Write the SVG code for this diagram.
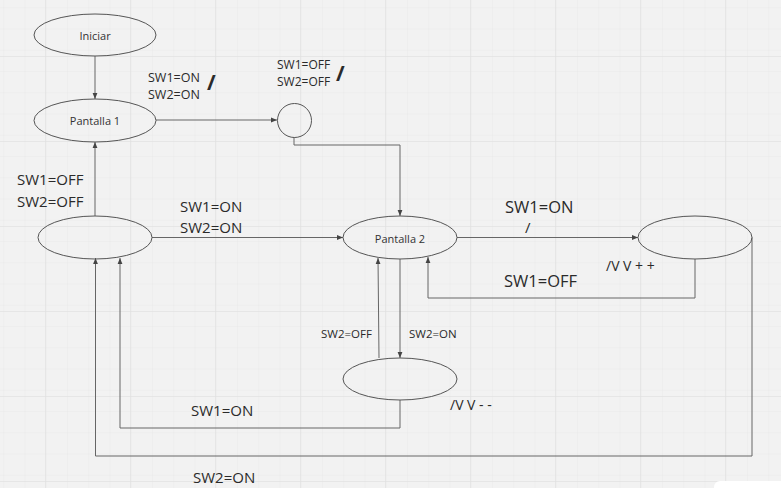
<svg xmlns="http://www.w3.org/2000/svg" width="781" height="488" viewBox="0 0 781 488">
<defs>
<pattern id="minor" x="3.25" y="7.25" width="21.25" height="21.25" patternUnits="userSpaceOnUse">
<path d="M0 0H21.25M0 0V21.25" fill="none" stroke="#e9e9e9" stroke-width="1"/>
</pattern>
<pattern id="major" x="45" y="56" width="85" height="85" patternUnits="userSpaceOnUse">
<path d="M0 0H85M0 0V85" fill="none" stroke="#e2e2e2" stroke-width="1.5"/>
</pattern>
<marker id="arr" viewBox="0 0 10 10" refX="10" refY="5" markerWidth="6" markerHeight="6" orient="auto" markerUnits="userSpaceOnUse">
<path d="M0 1L10 5L0 9Z" fill="#444"/>
</marker>
<style>
.node{fill:none;stroke:#555;stroke-width:1}
.edge{fill:none;stroke:#666;stroke-width:1;marker-end:url(#arr)}
text{font-family:"Open Sans","Liberation Sans",sans-serif;fill:#333}
.nl{font-size:11px;text-anchor:middle;dominant-baseline:central}
.lbl{fill:#2a2a2a}
</style>
</defs>
<rect width="781" height="488" fill="#f2f2f2"/>
<rect width="781" height="488" fill="url(#minor)"/>
<rect width="781" height="488" fill="url(#major)"/>
<rect x="714" y="481" width="80" height="20" rx="6" fill="#ffffff"/>

<g id="connectors">
<path class="edge" d="M95 56V99"/>
<path class="edge" d="M156 120H277"/>
<path class="edge" d="M294 137V145H400V216"/>
<path class="edge" d="M95 216V142"/>
<path class="edge" d="M152 237.5H343"/>
<path class="edge" d="M457 237.5H638"/>
<path class="edge" d="M695 259V298H428V257"/>
<path class="edge" d="M400 259V358"/>
<path class="edge" d="M379 358L378 258"/>
<path class="edge" d="M400 400V428H120V258"/>
<path class="edge" d="M752 237.5V456H95.5V258"/>
</g>

<g id="iniciar"><ellipse class="node" cx="95" cy="35" rx="61" ry="21"/><text class="nl" x="95" y="35">Iniciar</text></g>
<g id="pantalla1"><ellipse class="node" cx="95" cy="120.5" rx="61" ry="21.5"/><text class="nl" x="95" y="120.5">Pantalla 1</text></g>
<g id="circulo"><circle class="node" cx="294.5" cy="120.5" r="17"/></g>
<g id="estado-izq"><ellipse class="node" cx="95" cy="237.5" rx="57" ry="21.5"/></g>
<g id="pantalla2"><ellipse class="node" cx="400" cy="237.5" rx="57" ry="21.5"/><text class="nl" x="400" y="238">Pantalla 2</text></g>
<g id="estado-der"><ellipse class="node" cx="695" cy="237.5" rx="57" ry="21.5"/></g>
<g id="estado-abajo"><ellipse class="node" cx="400" cy="379" rx="57" ry="21"/></g>

<g id="labels">
<text class="lbl" x="148" y="82" font-size="12.5">SW1=ON</text>
<text class="lbl" x="148" y="99" font-size="12.5">SW2=ON</text>
<text class="lbl" x="207" y="90" font-size="21" font-weight="bold">/</text>
<text class="lbl" x="277" y="69" font-size="12">SW1=OFF</text>
<text class="lbl" x="277" y="86" font-size="12">SW2=OFF</text>
<text class="lbl" x="336" y="81" font-size="21" font-weight="bold">/</text>
<text class="lbl" x="17" y="185" font-size="15">SW1=OFF</text>
<text class="lbl" x="17" y="207" font-size="15">SW2=OFF</text>
<text class="lbl" x="180" y="212" font-size="15">SW1=ON</text>
<text class="lbl" x="180" y="233" font-size="15">SW2=ON</text>
<text class="lbl" x="505" y="213" font-size="16.5">SW1=ON</text>
<text class="lbl" x="525" y="233" font-size="15">/</text>
<text class="lbl" x="504" y="287" font-size="16.5">SW1=OFF</text>
<text class="lbl" x="606" y="271" font-size="14">/V V + +</text>
<text class="lbl" x="321" y="338" font-size="11.5">SW2=OFF</text>
<text class="lbl" x="409" y="338" font-size="11.5">SW2=ON</text>
<text class="lbl" x="450" y="410" font-size="14">/V V - -</text>
<text class="lbl" x="191" y="416" font-size="15">SW1=ON</text>
<text class="lbl" x="193" y="483" font-size="15">SW2=ON</text>
</g>
</svg>
